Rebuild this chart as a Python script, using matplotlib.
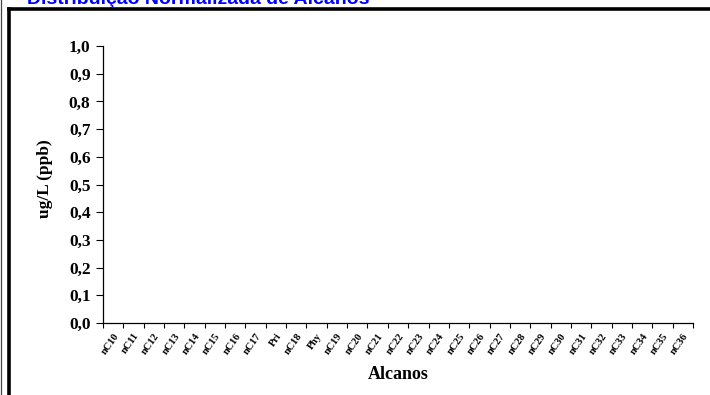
import numpy as np
import matplotlib.pyplot as plt
from matplotlib.lines import Line2D

categories = ['nC10', 'nC11', 'nC12', 'nC13', 'nC14', 'nC15', 'nC16', 'nC17', 'Pri',
              'nC18', 'Phy', 'nC19', 'nC20', 'nC21', 'nC22', 'nC23', 'nC24', 'nC25',
              'nC26', 'nC27', 'nC28', 'nC29', 'nC30', 'nC31', 'nC32', 'nC33', 'nC34',
              'nC35', 'nC36']
y_ticks = [0.0, 0.1, 0.2, 0.3, 0.4, 0.5, 0.6, 0.7, 0.8, 0.9, 1.0]
y_labels = ['0,0', '0,1', '0,2', '0,3', '0,4', '0,5', '0,6', '0,7', '0,8', '0,9', '1,0']

W, H = 710, 395
fig = plt.figure(figsize=(W / 100, H / 100), dpi=100)

# outer frame lines (cut-off sheet borders)
fig.add_artist(Line2D([1.5 / W, 1.5 / W], [0, 1], color='#444444', lw=0.9,
                      transform=fig.transFigure))
fig.add_artist(Line2D([8.5 / W, 8.5 / W], [0, 1 - 8.5 / H], color='black', lw=2.6,
                      transform=fig.transFigure, solid_capstyle='projecting'))
fig.add_artist(Line2D([8.5 / W, 1], [1 - 8.5 / H, 1 - 8.5 / H], color='black', lw=2.6,
                      transform=fig.transFigure, solid_capstyle='projecting'))

# title, cut off at the top like the reference
fig.text(27 / W, 1 - 3.5 / H, 'Distribuição Normalizada de Alcanos', color='#0000FF',
         fontsize=14, fontweight='bold', family='Liberation Sans', va='baseline', ha='left')

ax = fig.add_axes([103 / W, 1 - 323 / H, 590 / W, 277 / H])
n = len(categories)
ax.set_xlim(0, n)
ax.set_ylim(0, 1.0)

ax.spines['top'].set_visible(False)
ax.spines['right'].set_visible(False)
for s in ['left', 'bottom']:
    ax.spines[s].set_color('black')
    ax.spines[s].set_linewidth(0.9)

ax.set_yticks(y_ticks)
ax.set_yticklabels(y_labels, fontsize=12.5, fontweight='bold', family='Liberation Serif')
ax.tick_params(axis='y', direction='out', length=5, width=0.8, pad=4)

ax.set_xticks(np.arange(n + 1))
ax.set_xticklabels([])
ax.tick_params(axis='x', which='major', direction='out', length=3.5, width=0.8)
ax.set_xticks(np.arange(n) + 0.5, minor=True)
ax.set_xticklabels(categories, minor=True, rotation=55, ha='right', va='top',
                   rotation_mode='anchor', fontsize=7.5, fontweight='bold',
                   family='Liberation Serif')
ax.tick_params(axis='x', which='minor', length=0, pad=6)

ax.set_ylabel('ug/L (ppb)', fontsize=12.5, fontweight='bold', family='Liberation Serif')
ax.yaxis.set_label_coords(-0.085, 0.52)
ax.set_xlabel('Alcanos', fontsize=13, fontweight='bold', family='Liberation Serif',
              labelpad=7)

fig.savefig('out.png', dpi=100)
